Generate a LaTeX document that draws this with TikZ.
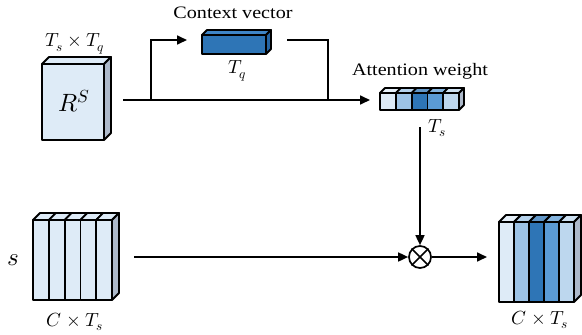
\documentclass[tikz,border=0pt]{standalone}
\usepackage{fontspec}
\usepackage{unicode-math}
\setmathfont{Latin Modern Math}
\setmainfont{Liberation Serif}[FakeStretch=1.15]
\usetikzlibrary{arrows.meta,calc}
\definecolor{c1}{HTML}{DEEBF7}
\definecolor{c2}{HTML}{9DC3E6}
\definecolor{c3}{HTML}{2E75B6}
\definecolor{c4}{HTML}{5B9BD5}
\definecolor{c5}{HTML}{BDD7EE}
\definecolor{sidegray}{HTML}{ADB9CA}
\definecolor{cvtop}{HTML}{3F85C6}
\definecolor{cvside}{HTML}{2565A3}
\begin{document}
\begin{tikzpicture}[x=1pt,y=-1pt,
  face/.style={draw=black,line width=1.8pt,line join=round},
  cell/.style={face,inner sep=0pt,outer sep=0pt,anchor=north west},
  conn/.style={line width=1.7pt},
  arr/.style={conn,-{Triangle[length=10pt,width=9pt]}},
  lab/.style={font=\fontsize{17.5}{20}\selectfont,inner sep=0pt},
  mlab/.style={font=\fontsize{19}{22}\selectfont,inner sep=0pt},
  blab/.style={font=\fontsize{25}{28}\selectfont,inner sep=0pt}]
\useasboundingbox (0,0) rectangle (582,335);

% R^S box
\node[cell,fill=c1,minimum width=62pt,minimum height=76pt] (rs) at (42,64) {};
\filldraw[face,fill=c1] (rs.north west) -- ++(7,-7) -- ++(62,0) -- (rs.north east) -- cycle;
\filldraw[face,fill=sidegray] (rs.north east) -- ++(7,-7) -- ++(0,76) -- (rs.south east) -- cycle;
\node[blab] (rslab) at (74,101) {$R^S$};
\node[mlab] (tstq) at (75,44) {$T_s\times T_q$};

% context vector
\node[cell,fill=c3,minimum width=64pt,minimum height=19pt] (cv) at (202,35) {};
\filldraw[face,fill=cvtop] (cv.north west) -- ++(5,-5) -- ++(64,0) -- (cv.north east) -- cycle;
\filldraw[face,fill=cvside] (cv.north east) -- ++(5,-5) -- ++(0,19) -- (cv.south east) -- cycle;
\node[lab] (cvt) at (233,13) {Context vector};
\node[mlab] (tq) at (237,71) {$T_q$};

% attention weight
\foreach \i/\c in {0/c1,1/c2,2/c3,3/c4,4/c5}{
  \node[cell,fill=\c,minimum width=15.8pt,minimum height=17pt] (aw\i) at ({380+15.8*\i},93) {};
  \filldraw[face,fill=\c!75!white] (aw\i.north west) -- ++(5,-5) -- ++(15.8,0) -- (aw\i.north east) -- cycle;
}
\filldraw[face,fill=sidegray] (aw4.north east) -- ++(5,-5) -- ++(0,17) -- (aw4.south east) -- cycle;
\node[lab] (awt) at (420,71) {Attention weight};
\node[mlab] (ts) at (437,128) {$T_s$};

% s box
\foreach \i in {0,...,4}{
  \node[cell,fill=c1,minimum width=15.8pt,minimum height=80pt] (s\i) at ({33+15.8*\i},220) {};
  \filldraw[face,fill=c1] (s\i.north west) -- ++(7,-7) -- ++(15.8,0) -- (s\i.north east) -- cycle;
}
\filldraw[face,fill=sidegray] (s4.north east) -- ++(7,-7) -- ++(0,80) -- (s4.south east) -- cycle;
\node[blab] (sl) at (13,260) {$s$};
\node[mlab] (cts1) at (75,322) {$C\times T_s$};

% output box
\foreach \i/\c in {0/c1,1/c2,2/c3,3/c4,4/c5}{
  \node[cell,fill=\c,minimum width=15pt,minimum height=80pt] (o\i) at ({499+15*\i},222) {};
  \filldraw[face,fill=\c!75!white] (o\i.north west) -- ++(7,-7) -- ++(15,0) -- (o\i.north east) -- cycle;
}
\filldraw[face,fill=sidegray] (o4.north east) -- ++(7,-7) -- ++(0,80) -- (o4.south east) -- cycle;
\node[mlab] (cts2) at (540,320) {$C\times T_s$};

% multiply
\node[circle,draw,line width=1.7pt,minimum size=22pt,inner sep=0pt] (m) at (420,257) {};
\draw[conn] (m.north west) -- (m.south east) (m.north east) -- (m.south west);

% connectors
\coordinate (a0) at (123,100);
\coordinate (br) at (151,100);
\coordinate (cvin) at (187,40);
\coordinate (cvout) at (287,40);
\coordinate (jn) at (328,100);
\coordinate (tsb) at (420,127);
\coordinate (sline) at (134,257);
\draw[arr,shorten >=10pt] (a0) -- (aw0.west |- a0);
\draw[arr] (br) |- (cvin);
\draw[conn] (cvout) -| (jn);
\draw[arr] (tsb) -- (m.north);
\draw[arr] (sline) -- (m.west);
\draw[arr,shorten >=12pt] (m.east) -- (o0.west |- m);
\end{tikzpicture}
\end{document}
